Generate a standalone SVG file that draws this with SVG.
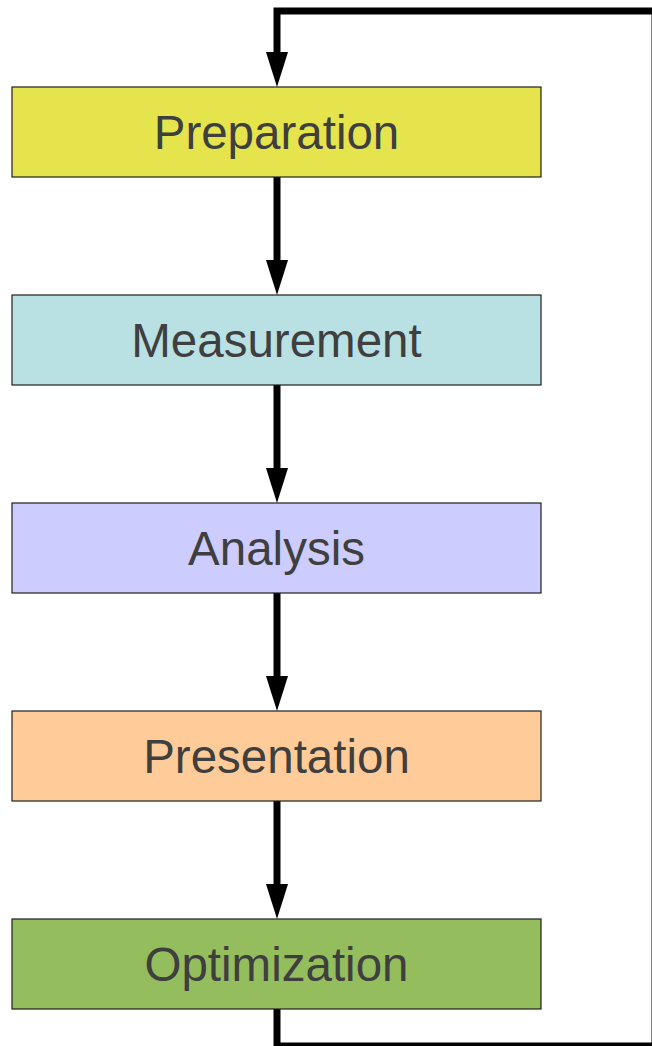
<svg xmlns="http://www.w3.org/2000/svg" width="652" height="1046" viewBox="0 0 652 1046">
<defs>
<style>
.box{stroke:#1f1f1f;stroke-width:1.2}
.lbl{font-family:"Liberation Sans",Arial,sans-serif;font-size:47.5px;fill:#3f3f3f;text-anchor:middle}
.con{fill:none;stroke:#000000;stroke-width:7;stroke-linejoin:miter;stroke-linecap:butt}
.head{fill:#000000}
</style>
</defs>
<rect width="652" height="1046" fill="#ffffff"/>
<g id="connectors">
<path class="con" d="M277 1009 L277 1046 L655 1046 L655 11 L277 11 L277 70"/>
<path class="head" d="M266 52 L288 52 L277 87 Z"/>
<path class="con" d="M277 177 L277 262"/>
<path class="head" d="M266 260 L288 260 L277 295 Z"/>
<path class="con" d="M277 385 L277 470"/>
<path class="head" d="M266 468 L288 468 L277 503 Z"/>
<path class="con" d="M277 593 L277 678"/>
<path class="head" d="M266 676 L288 676 L277 711 Z"/>
<path class="con" d="M277 801 L277 886"/>
<path class="head" d="M266 884 L288 884 L277 919 Z"/>
</g>
<g id="preparation">
<rect class="box" x="12" y="87" width="529" height="90" fill="#e6e44c"/>
<text class="lbl" x="276.5" y="149">Preparation</text>
</g>
<g id="measurement">
<rect class="box" x="12" y="295" width="529" height="90" fill="#b9e0e3"/>
<text class="lbl" x="276.5" y="357">Measurement</text>
</g>
<g id="analysis">
<rect class="box" x="12" y="503" width="529" height="90" fill="#ccccff"/>
<text class="lbl" x="276.5" y="565">Analysis</text>
</g>
<g id="presentation">
<rect class="box" x="12" y="711" width="529" height="90" fill="#ffcc99"/>
<text class="lbl" x="276.5" y="773">Presentation</text>
</g>
<g id="optimization">
<rect class="box" x="12" y="919" width="529" height="90" fill="#94bd5e"/>
<text class="lbl" x="276.5" y="981">Optimization</text>
</g>
</svg>
